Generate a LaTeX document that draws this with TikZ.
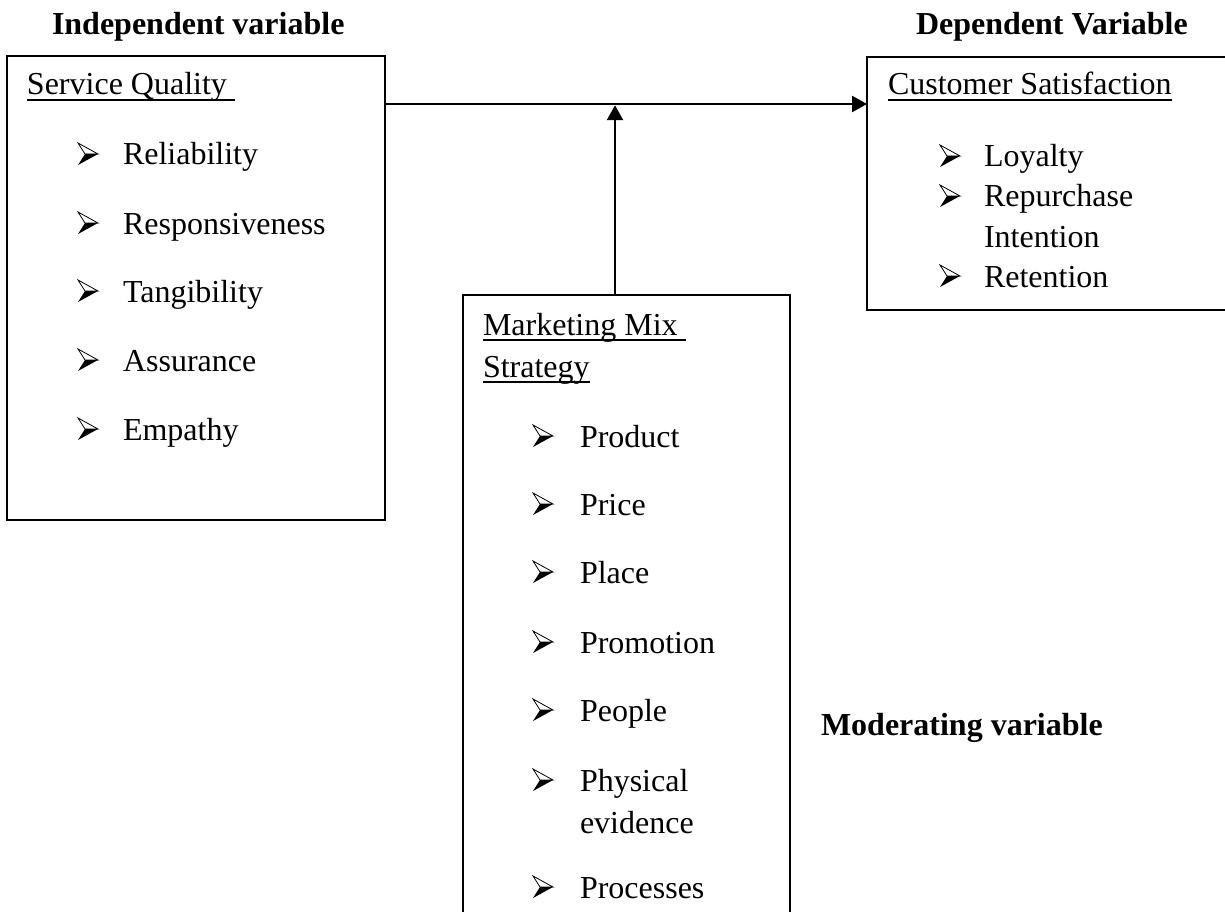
\documentclass[tikz,border=0pt]{standalone}
\usepackage{fontspec}
\setmainfont{Liberation Serif}
\usetikzlibrary{arrows.meta}
\begin{document}
\begin{tikzpicture}[x=1pt,y=-1pt,
  every node/.style={inner sep=0pt, outer sep=0pt, font=\fontsize{32}{38}\selectfont},
  lbl/.style={anchor=base west},
  heading/.style={anchor=base west, font=\fontsize{32}{38}\selectfont\bfseries},
  box/.style={draw, line width=2pt, anchor=north west},
  link/.style={line width=2.5pt, -{Triangle[length=15pt,width=16pt]}},
  uline/.style={line width=2pt},
  pics/arrowbullet/.style={code={
    % three-d arrowhead bullet: light upper half, dark lower half
    \filldraw[fill=white, draw=black, line width=0.8pt, line join=miter]
      (0,-22) -- (20,-11) -- (7,-11) -- cycle;
    \fill (7,-11) -- (20,-11) -- (0,0) -- cycle;
  }}]
\path[use as bounding box, clip] (0,0) rectangle (1225,912);

% headings
\node[heading] (indep) at (52,35) {Independent variable};
\node[heading] (dep) at (916,35) {Dependent Variable};
\node[heading] (moder) at (821,735) {Moderating variable};

% boxes
\node[box, minimum width=378pt, minimum height=464pt] (sqbox) at (7,56) {};
\node[box, minimum width=380pt, minimum height=253pt] (csbox) at (867,57) {};
\node[box, minimum width=327pt, minimum height=660pt] (mmbox) at (463,295) {};

% connectors
\coordinate (join) at (615,104);
\draw[link] (sqbox.east |- join) -- (csbox.west |- join);
\draw[link] (join |- mmbox.north) -- ([yshift=-1.25pt]join);

% Service Quality
\node[lbl] (sqt) at (27,95) {Service Quality};
\draw[uline] ([yshift=-5pt]sqt.base west) -- ([xshift=8pt,yshift=-5pt]sqt.base east);
\pic at (78,165) {arrowbullet};
\node[lbl] (sq1) at (123,165) {Reliability};
\pic at (78,234) {arrowbullet};
\node[lbl] (sq2) at (123,234) {Responsiveness};
\pic at (78,302) {arrowbullet};
\node[lbl] (sq3) at (123,302) {Tangibility};
\pic at (78,371) {arrowbullet};
\node[lbl] (sq4) at (123,371) {Assurance};
\pic at (78,440) {arrowbullet};
\node[lbl] (sq5) at (123,440) {Empathy};

% Customer Satisfaction
\node[lbl] (cst) at (888,95) {Customer Satisfaction};
\draw[uline] ([yshift=-5pt]cst.base west) -- ([yshift=-5pt]cst.base east);
\pic at (940,167) {arrowbullet};
\node[lbl] (cs1) at (984,167) {Loyalty};
\pic at (940,207) {arrowbullet};
\node[lbl] (cs2) at (984,207) {Repurchase};
\node[lbl] (cs2b) at (984,247) {Intention};
\pic at (940,287) {arrowbullet};
\node[lbl] (cs3) at (984,287) {Retention};

% Marketing Mix Strategy
\node[lbl] (mmt) at (483,335) {Marketing Mix};
\draw[uline] ([yshift=-5pt]mmt.base west) -- ([xshift=8pt,yshift=-5pt]mmt.base east);
\node[lbl] (mmt2) at (483,377) {Strategy};
\draw[uline] ([yshift=-5pt]mmt2.base west) -- ([yshift=-5pt]mmt2.base east);
\pic at (533,447) {arrowbullet};
\node[lbl] (mm1) at (580,447) {Product};
\pic at (533,515) {arrowbullet};
\node[lbl] (mm2) at (580,515) {Price};
\pic at (533,583) {arrowbullet};
\node[lbl] (mm3) at (580,583) {Place};
\pic at (533,653) {arrowbullet};
\node[lbl] (mm4) at (580,653) {Promotion};
\pic at (533,721) {arrowbullet};
\node[lbl] (mm5) at (580,721) {People};
\pic at (533,791) {arrowbullet};
\node[lbl] (mm6) at (580,791) {Physical};
\node[lbl] (mm6b) at (580,833) {evidence};
\pic at (533,898) {arrowbullet};
\node[lbl] (mm7) at (580,898) {Processes};
\end{tikzpicture}
\end{document}
